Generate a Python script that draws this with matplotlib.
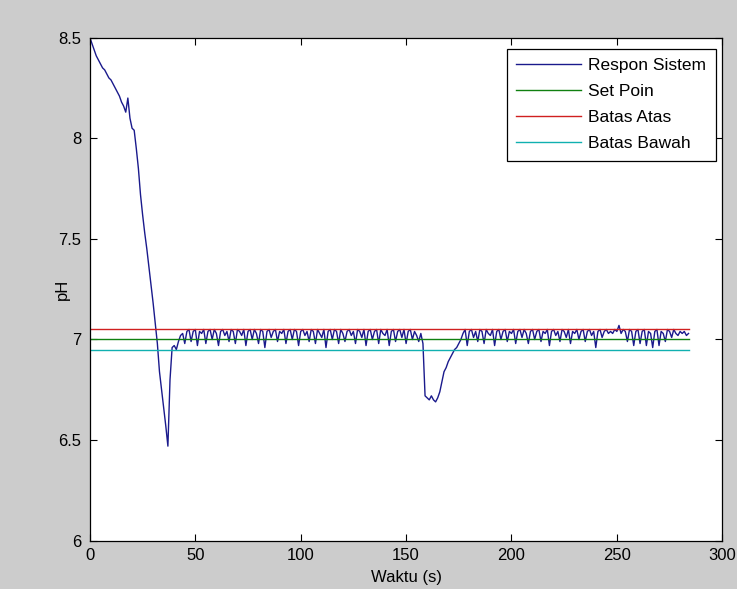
import numpy as np
from matplotlib import pyplot as plt

# pH response, 1 sample per second starting at t = 0
ph_start = [8.50, 8.47, 8.44, 8.41, 8.39, 8.37, 8.35, 8.34, 8.32, 8.30,
            8.29, 8.27, 8.25, 8.23, 8.21, 8.18, 8.16, 8.13, 8.20, 8.10,
            8.05, 8.04, 7.95, 7.85, 7.72, 7.62, 7.53, 7.45, 7.36, 7.27,
            7.18, 7.08, 6.98, 6.84, 6.75, 6.66, 6.57, 6.47, 6.80, 6.96,
            6.97, 6.95]
ph_osc1 = [6.99, 7.02, 7.03, 6.98, 7.04, 7.05, 6.99, 7.04, 7.05, 6.97,
           7.04, 7.03, 7.05, 6.98, 7.04, 7.05, 7.00, 7.05, 7.03, 6.97,
           7.04, 7.05, 7.02, 7.04, 6.99, 7.05, 7.04, 6.98, 7.05, 7.04,
           7.02, 7.05, 6.97, 7.04, 7.05, 7.00, 7.05, 7.03, 6.98, 7.05,
           7.04, 6.96, 7.04, 7.05, 7.01, 7.04, 7.05, 6.99, 7.04, 7.03,
           7.05, 6.98, 7.04, 7.05, 7.00, 7.05, 7.04, 6.97, 7.04, 7.05,
           7.02, 7.04, 6.99, 7.05, 7.04, 6.98, 7.05, 7.03, 7.01, 7.05,
           6.96, 7.04, 7.05, 7.00, 7.05, 7.04, 6.98, 7.05, 7.03, 6.99,
           7.04, 7.05, 7.02, 7.04, 6.98, 7.05, 7.04, 7.01, 7.05, 6.97,
           7.04, 7.05, 7.00, 7.04, 7.05, 6.98, 7.05, 7.03, 7.02, 7.05,
           6.97, 7.04, 7.05, 6.99, 7.04, 7.05, 7.01, 7.05, 6.98, 7.04,
           7.05, 7.00, 7.04, 7.02, 6.99, 7.03]
ph_dip = [6.98, 6.72, 6.71, 6.70, 6.72, 6.70, 6.69, 6.71, 6.74, 6.79,
          6.84, 6.86, 6.89, 6.91, 6.93, 6.95, 6.96, 6.98, 7.00]
ph_osc2 = [7.03, 7.05, 6.97, 7.04, 7.05, 7.01, 7.04, 6.99, 7.05, 7.04,
           6.98, 7.05, 7.03, 7.02, 7.05, 6.97, 7.04, 7.05, 7.00, 7.04,
           7.05, 6.99, 7.04, 7.03, 7.05, 6.98, 7.04, 7.05, 7.01, 7.05,
           7.03, 6.98, 7.04, 7.05, 7.00, 7.04, 7.05, 6.99, 7.04, 7.03,
           7.05, 6.97, 7.04, 7.05, 7.02, 7.04, 6.99, 7.05, 7.04, 7.01,
           7.05, 6.98, 7.04, 7.03, 7.05, 7.00, 7.04, 7.05, 6.99, 7.04,
           7.05, 7.02, 7.04, 6.96, 7.04, 7.05, 7.01, 7.04, 7.05, 7.03,
           7.04, 7.03, 7.05, 7.04, 7.07, 7.03, 7.05, 7.04, 6.99, 7.05,
           7.04, 6.97, 7.04, 7.05, 6.98, 7.04, 7.05, 6.97, 7.04, 7.03,
           6.96, 7.04, 7.05, 6.97, 7.04, 7.03, 6.99, 7.05, 7.04, 7.01,
           7.05, 7.03, 7.02, 7.04, 7.03, 7.04, 7.02, 7.03]

set_poin = 7.0
batas_atas = 7.05
batas_bawah = 6.95

ph = np.array(ph_start + ph_osc1 + ph_dip + ph_osc2)
time = np.arange(len(ph))   # seconds
t_ref = [time[0], time[-1]]

s = 12
plt.rcParams['font.family'] = ['Liberation Sans', 'DejaVu Sans']

fig = plt.figure(figsize=(7.37, 5.89), dpi=100, facecolor='#cccccc')
ax = fig.add_axes([0.122, 0.082, 0.858, 0.854])
ax.set_facecolor('white')

ax.plot(time, ph, color='#1a1a8c', lw=1, label='Respon Sistem')
ax.plot(t_ref, [set_poin] * 2, color='#108010', lw=1, label='Set Poin')
ax.plot(t_ref, [batas_atas] * 2, color='#d02020', lw=1, label='Batas Atas')
ax.plot(t_ref, [batas_bawah] * 2, color='#10b0b0', lw=1, label='Batas Bawah')

ax.set_xlim(0, 300)
ax.set_ylim(6, 8.5)
ax.set_xticks([0, 50, 100, 150, 200, 250, 300])
ax.set_yticks([6, 6.5, 7, 7.5, 8, 8.5])
ax.set_yticklabels(['6', '6.5', '7', '7.5', '8', '8.5'])
ax.tick_params(direction='in', top=True, right=True, labelsize=s, length=5)
ax.tick_params(axis='x', pad=5)
ax.tick_params(axis='y', pad=6)
for sp in ax.spines.values():
    sp.set_linewidth(0.9)

ax.set_xlabel('Waktu (s)', size=s)
ax.set_ylabel('pH', size=s)
ax.xaxis.set_label_coords(0.5, -0.058)
ax.yaxis.set_label_coords(-0.032, 0.5)

leg = ax.legend(loc='upper right', bbox_to_anchor=(0.99, 0.978), borderaxespad=0,
                fontsize=12.5, fancybox=False, framealpha=1, edgecolor='black',
                handlelength=3.7, labelspacing=0.62, handletextpad=0.45,
                borderpad=0.55)
leg.get_frame().set_linewidth(0.9)

plt.savefig('out.png', dpi=100, facecolor=fig.get_facecolor())
